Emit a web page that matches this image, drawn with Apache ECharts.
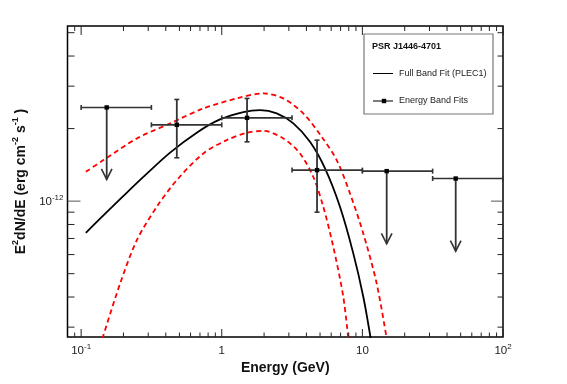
<!DOCTYPE html>
<html><head><meta charset="utf-8">
<script src="https://cdn.jsdelivr.net/npm/echarts@6/dist/echarts.min.js"></script>
<style>html,body{margin:0;padding:0;background:#fff}#c{width:567px;height:384px}</style>
</head><body><div id="c"></div>
<script>
// ---- Data (E in GeV, E^2 dN/dE in erg cm^-2 s^-1) ----
// Full band fit (PLEC1)
const fitE = [0.108, 0.144, 0.200, 0.277, 0.429, 0.664, 0.972, 1.424, 1.872, 2.459, 3.228, 4.242, 5.423, 6.93, 8.617, 10.15, 11.46];
const fitF = [0.739e-12, 0.872e-12, 1.051e-12, 1.260e-12, 1.589e-12, 1.924e-12, 2.183e-12, 2.341e-12, 2.386e-12, 2.311e-12, 2.101e-12, 1.762e-12, 1.367e-12, 0.947e-12, 0.607e-12, 0.401e-12, 0.269e-12];
// Upper 1-sigma envelope
const upE = [0.108, 0.144, 0.249, 0.429, 0.740, 1.278, 1.975, 2.740, 3.80, 5.136, 6.566, 8.165, 10.15, 12.64, 14.89];
const upF = [1.323e-12, 1.480e-12, 1.820e-12, 2.101e-12, 2.424e-12, 2.668e-12, 2.798e-12, 2.668e-12, 2.311e-12, 1.849e-12, 1.480e-12, 1.076e-12, 0.734e-12, 0.455e-12, 0.269e-12];
// Lower 1-sigma envelope
const loE = [0.1417, 0.1893, 0.249, 0.345, 0.479, 0.740, 1.085, 1.505, 1.975, 2.740, 3.601, 4.477, 5.274, 6.213, 7.316, 7.94];
const loF = [0.269e-12, 0.455e-12, 0.689e-12, 0.947e-12, 1.222e-12, 1.577e-12, 1.791e-12, 1.920e-12, 1.957e-12, 1.820e-12, 1.577e-12, 1.261e-12, 0.947e-12, 0.646e-12, 0.401e-12, 0.269e-12];
// Energy band fits
const bandE   = [0.152, 0.479, 1.513, 4.76, 14.89, 46.1];
const bandElo = [0.1, 0.316, 1.0, 3.16, 10, 31.6];
const bandEhi = [0.316, 1.0, 3.16, 10, 31.6, 100];
const bandF   = [2.448e-12, 2.073e-12, 2.216e-12, 1.345e-12, 1.332e-12, 1.241e-12];
const bandFlo = [1.23e-12, 1.513e-12, 1.762e-12, 0.900e-12, 0.665e-12, 0.62e-12]; // arrow tip for upper limits
const bandFhi = [2.448e-12, 2.642e-12, 2.668e-12, 1.791e-12, 1.332e-12, 1.241e-12];
const bandUL  = [1, 0, 0, 0, 1, 1];
// Axis ranges and ticks
const xMin = 0.08, xMax = 100;
const yMin = 2.73e-13, yMax = 5.33e-12;
const xMajorTicks = [0.1, 1, 10, 100];
const xMinorTicks = [0.09, 0.2, 0.3, 0.4, 0.5, 0.6, 0.7, 0.8, 0.9, 2, 3, 4, 5, 6, 7, 8, 9, 20, 30, 40, 50, 60, 70, 80, 90];
const yMajorTicks = [1e-12];
const yMinorTicks = [3e-13, 4e-13, 5e-13, 6e-13, 7e-13, 8e-13, 9e-13, 2e-12, 3e-12, 4e-12, 5e-12];

const FONT = '"Liberation Sans", Arial, Helvetica, sans-serif';
const chart = echarts.init(document.getElementById('c'), null, {renderer: 'canvas'});

function powLabel(v) {
  const l = Math.log10(v), r = Math.round(l);
  if (Math.abs(l - r) > 1e-6) return '';
  if (r === 0) return '{b|1}';
  if (r === 1) return '{b|10}';
  return '{b|10}{s|' + r + '}';
}
const labelRich = {
  b: {fontSize: 11.5, fontFamily: FONT, color: '#222', verticalAlign: 'bottom', lineHeight: 14},
  s: {fontSize: 8, fontFamily: FONT, color: '#222', verticalAlign: 'top', lineHeight: 8}
};

const xTickData = xMajorTicks.map(v => [v, yMin, 1]).concat(xMinorTicks.map(v => [v, yMin, 0]));
const yTickData = yMajorTicks.map(v => [xMin, v, 1]).concat(yMinorTicks.map(v => [xMin, v, 0]));
const tickStyle = {stroke: '#222', lineWidth: 1};

const bandData = bandE.map((e, i) => [e, bandF[i], bandElo[i], bandEhi[i], bandFlo[i], bandFhi[i], bandUL[i]]);

chart.setOption({
  backgroundColor: '#fff',
  animation: false,
  grid: {left: 67.5, right: 64, top: 26, bottom: 47, show: true, borderColor: '#000', borderWidth: 1.5, backgroundColor: 'transparent'},
  xAxis: {
    type: 'log', logBase: 10, min: xMin, max: xMax,
    axisLine: {show: false}, axisTick: {show: false}, splitLine: {show: false},
    axisLabel: {formatter: powLabel, rich: labelRich, margin: 5.5, showMinLabel: true, showMaxLabel: true},
    name: 'Energy (GeV)', nameLocation: 'middle', nameGap: 22,
    nameTextStyle: {fontFamily: FONT, fontWeight: 'bold', fontSize: 14, color: '#111'}
  },
  yAxis: {
    type: 'log', logBase: 10, min: yMin, max: yMax,
    axisLine: {show: false}, axisTick: {show: false}, splitLine: {show: false},
    axisLabel: {formatter: powLabel, rich: labelRich, margin: 4},
    name: '{m|E}{s|2}{m|dN/dE (erg cm}{s|-2}{m| s}{s|-1}{m| )}', nameLocation: 'middle', nameRotate: 90, nameGap: 38,
    nameTextStyle: {
      rich: {
        m: {fontFamily: FONT, fontWeight: 'bold', fontSize: 14, color: '#111', lineHeight: 17, verticalAlign: 'bottom'},
        s: {fontFamily: FONT, fontWeight: 'bold', fontSize: 9, color: '#111', lineHeight: 9, verticalAlign: 'top'}
      }
    }
  },
  series: [
    {
      type: 'line', name: 'Full Band Fit (PLEC1)', data: fitE.map((e, i) => [e, fitF[i]]),
      smooth: 0.3, showSymbol: false, lineStyle: {color: '#000', width: 1.8}, z: 3
    },
    {
      type: 'line', name: 'upper', data: upE.map((e, i) => [e, upF[i]]),
      smooth: 0.3, showSymbol: false, lineStyle: {color: '#ff0000', width: 1.8, type: [5, 3.5]}, z: 2
    },
    {
      type: 'line', name: 'lower', data: loE.map((e, i) => [e, loF[i]]),
      smooth: 0.3, showSymbol: false, lineStyle: {color: '#ff0000', width: 1.8, type: [5, 3.5]}, z: 2
    },
    {
      type: 'custom', name: 'Energy Band Fits', data: bandData, z: 5, silent: true,
      renderItem: function (params, api) {
        const E = api.value(0), F = api.value(1);
        const c = api.coord([E, F]);
        const l = api.coord([api.value(2), F]);
        const r = api.coord([api.value(3), F]);
        const st = {stroke: '#333', lineWidth: 1.6};
        const ch = [
          {type: 'line', shape: {x1: l[0], y1: c[1], x2: r[0], y2: c[1]}, style: st},
          {type: 'line', shape: {x1: l[0], y1: c[1] - 2.5, x2: l[0], y2: c[1] + 2.5}, style: st},
          {type: 'line', shape: {x1: r[0], y1: c[1] - 2.5, x2: r[0], y2: c[1] + 2.5}, style: st}
        ];
        const lo = api.coord([E, api.value(4)]);
        if (api.value(6)) {
          ch.push({type: 'line', shape: {x1: c[0], y1: c[1], x2: c[0], y2: lo[1]}, style: {stroke: '#333', lineWidth: 1.8}});
          ch.push({type: 'polyline', shape: {points: [[c[0] - 5.3, lo[1] - 10.5], [c[0], lo[1]], [c[0] + 5.3, lo[1] - 10.5]]}, style: {stroke: '#333', lineWidth: 1.6, fill: null}});
        } else {
          const hi = api.coord([E, api.value(5)]);
          ch.push({type: 'line', shape: {x1: c[0], y1: hi[1], x2: c[0], y2: lo[1]}, style: {stroke: '#333', lineWidth: 1.8}});
          ch.push({type: 'line', shape: {x1: c[0] - 2.5, y1: hi[1], x2: c[0] + 2.5, y2: hi[1]}, style: st});
          ch.push({type: 'line', shape: {x1: c[0] - 2.5, y1: lo[1], x2: c[0] + 2.5, y2: lo[1]}, style: st});
        }
        ch.push({type: 'rect', shape: {x: c[0] - 2.2, y: c[1] - 2.2, width: 4.4, height: 4.4}, style: {fill: '#000'}});
        return {type: 'group', children: ch};
      }
    },
    {
      type: 'custom', name: 'xticks', data: xTickData, z: 6, silent: true, clip: false,
      renderItem: function (params, api) {
        const cs = params.coordSys;
        const p = api.coord([api.value(0), yMin]);
        const major = api.value(2);
        const lb = major ? 8 : 4.5, lt = major ? 9 : 5;
        const b = cs.y + cs.height;
        return {type: 'group', children: [
          {type: 'line', shape: {x1: p[0], y1: b, x2: p[0], y2: b - lb}, style: tickStyle},
          {type: 'line', shape: {x1: p[0], y1: cs.y, x2: p[0], y2: cs.y + lt}, style: tickStyle}
        ]};
      }
    },
    {
      type: 'custom', name: 'yticks', data: yTickData, z: 6, silent: true, clip: false,
      renderItem: function (params, api) {
        const cs = params.coordSys;
        const p = api.coord([xMin, api.value(1)]);
        const major = api.value(2);
        const ll = major ? 13 : 7, lr = major ? 12 : 5.5;
        const rgt = cs.x + cs.width;
        return {type: 'group', children: [
          {type: 'line', shape: {x1: cs.x, y1: p[1], x2: cs.x + ll, y2: p[1]}, style: major ? {stroke: '#555', lineWidth: 1} : tickStyle},
          {type: 'line', shape: {x1: rgt, y1: p[1], x2: rgt - lr, y2: p[1]}, style: major ? {stroke: '#555', lineWidth: 1} : tickStyle}
        ]};
      }
    }
  ],
  graphic: [
    {type: 'rect', z: 10, shape: {x: 364, y: 34, width: 129, height: 80}, style: {fill: '#fff', stroke: '#777', lineWidth: 1.2}},
    {type: 'text', z: 11, x: 372, y: 47, style: {text: 'PSR J1446-4701', font: 'bold 9px ' + FONT, fill: '#111', verticalAlign: 'middle'}},
    {type: 'line', z: 11, shape: {x1: 373, y1: 73.5, x2: 393, y2: 73.5}, style: {stroke: '#000', lineWidth: 1}},
    {type: 'text', z: 11, x: 399, y: 74, style: {text: 'Full Band Fit (PLEC1)', font: '9px ' + FONT, fill: '#222', verticalAlign: 'middle'}},
    {type: 'line', z: 11, shape: {x1: 373, y1: 101, x2: 393, y2: 101}, style: {stroke: '#222', lineWidth: 1.2}},
    {type: 'rect', z: 11, shape: {x: 381.8, y: 98.8, width: 4.4, height: 4.4}, style: {fill: '#000'}},
    {type: 'text', z: 11, x: 399, y: 101, style: {text: 'Energy Band Fits', font: '9px ' + FONT, fill: '#222', verticalAlign: 'middle'}}
  ]
});
</script>
</body></html>
